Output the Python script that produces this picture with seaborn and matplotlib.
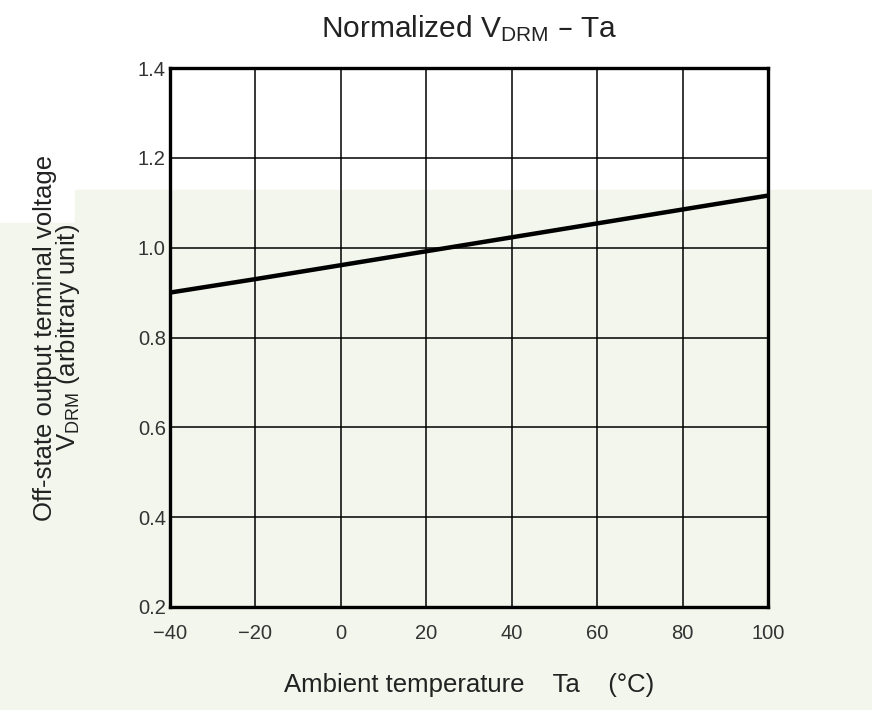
import numpy as np
import pandas as pd
import seaborn as sns
import matplotlib.pyplot as plt
from matplotlib.patches import Rectangle

# === DATA ===
temps = [-40, -20, 0, 20, 40, 60, 80, 100]
vdrm_norm = [0.900, 0.930, 0.961, 0.992, 1.023, 1.054, 1.085, 1.116]
x_ticks = [-40, -20, 0, 20, 40, 60, 80, 100]
y_ticks = [0.2, 0.4, 0.6, 0.8, 1.0, 1.2, 1.4]

df = pd.DataFrame({"Ta": temps, "VDRM": vdrm_norm})

sns.set_style("white")
plt.rcParams["font.family"] = ["Liberation Sans", "DejaVu Sans"]
plt.rcParams["mathtext.default"] = "regular"
plt.rcParams["axes.unicode_minus"] = True

fig = plt.figure(figsize=(8.72, 7.10), dpi=100)
fig.patch.set_facecolor("white")

# pale scanned-page tint on the lower part of the page
green = "#f2f6ec"
fig.patches.append(Rectangle((75 / 872, 0), 1 - 75 / 872, 1 - 190 / 710,
                             transform=fig.transFigure, color=green, zorder=-10))
fig.patches.append(Rectangle((0, 0), 75 / 872, 1 - 223 / 710,
                             transform=fig.transFigure, color=green, zorder=-10))

ax = fig.add_axes([170 / 872, 1 - 607 / 710, 598 / 872, 539 / 710])
ax.set_facecolor("none")

sns.lineplot(data=df, x="Ta", y="VDRM", ax=ax, color="black", linewidth=3.2)

ax.set_xlim(-40, 100)
ax.set_ylim(0.2, 1.4)
ax.set_xticks(x_ticks)
ax.set_yticks(y_ticks)
ax.set_xticklabels([f"{t}".replace("-", "\u2212") for t in x_ticks])
ax.set_yticklabels([f"{v:.1f}" for v in y_ticks])
ax.grid(True, color="black", linewidth=1.1)
ax.set_axisbelow(True)
for s in ax.spines.values():
    s.set_visible(True)
    s.set_color("black")
    s.set_linewidth(2.4)
ax.tick_params(axis="both", length=0, labelsize=14.5, colors="#333333")
ax.tick_params(axis="x", pad=12)
ax.tick_params(axis="y", pad=3)

ax.set_title("Normalized V$_{DRM}$ \u2013 Ta", fontsize=21.5, pad=22, color="#222222")
ax.set_xlabel("Ambient temperature    Ta    (\u00b0C)", fontsize=18.5, labelpad=22,
              color="#222222")
ax.set_ylabel("Off-state output terminal voltage\nV$_{DRM}$ (arbitrary unit)",
              fontsize=18.5, labelpad=40, color="#222222", linespacing=0.85)

fig.savefig("out.png", dpi=100, facecolor=fig.get_facecolor())
